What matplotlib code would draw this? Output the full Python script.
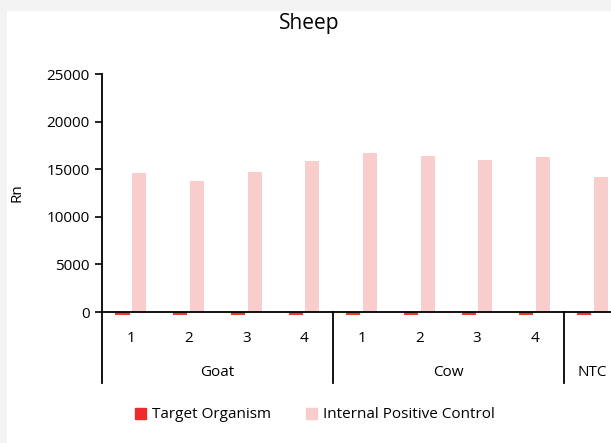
import numpy as np
import matplotlib.pyplot as plt
from matplotlib.patches import Rectangle
from matplotlib.lines import Line2D

plt.rcParams['font.family'] = ['Open Sans', 'DejaVu Sans']

# data
samples = ["1", "2", "3", "4", "1", "2", "3", "4", ""]
groups = ["Goat", "Cow", "NTC"]
group_sizes = [4, 4, 1]
target = [-300, -300, -300, -300, -300, -300, -300, -300, -300]
ipc = [14600, 13790, 14740, 15860, 16730, 16390, 15970, 16250, 14150]

W, H = 611, 443
fig = plt.figure(figsize=(W / 100, H / 100), dpi=100, facecolor="#f3f3f3")
# white chart area inside the grey screenshot border
fig.patches.append(Rectangle((7 / W, 0), 1, 1 - 11 / H, transform=fig.transFigure,
                             facecolor="white", edgecolor="none", zorder=-5))


def fx(px):
    return px / W


def fy(py):
    return 1 - py / H


step = 57.7
left, right = 102, 102 + 9 * step
ax = fig.add_axes([fx(left), fy(312), fx(right - left), fy(74) - fy(312)])
ax.set_facecolor("none")

x = np.arange(len(ipc))
bw = 0.245
ax.bar(x - 0.145, target, bw, color="#ee3b2b", clip_on=False, zorder=2)
ax.bar(x + 0.145, ipc, bw, color="#f9cdcb", zorder=2)

ax.set_xlim(-0.5, len(ipc) - 0.5)
ax.set_ylim(0, 25000)
ax.set_yticks(range(0, 25001, 5000))
ax.tick_params(axis="y", direction="out", length=5, width=1.2, labelsize=11, pad=4)
ax.set_xticks([])
for s in ["top", "right", "left"]:
    ax.spines[s].set_visible(False)
ax.spines["bottom"].set_linewidth(1.3)
ax.spines["bottom"].set_zorder(3)

# y axis line extended down through the category area
fig.add_artist(Line2D([fx(left), fx(left)], [fy(74), fy(383)], color="black", lw=1.3))

# category labels
for i, s in enumerate(samples):
    fig.text(fx(left + (i + 0.5) * step), fy(338), s, ha="center", va="center", fontsize=11)

# group labels and separators
start = 0
for g, n in zip(groups, group_sizes):
    c = start + n / 2
    fig.text(fx(left + c * step), fy(372), g, ha="center", va="center", fontsize=11)
    start += n
    if start < len(ipc):
        xpix = left + start * step
        fig.add_artist(Line2D([fx(xpix), fx(xpix)], [fy(312), fy(383)],
                              color="black", lw=1.3))

fig.text(fx(17), fy(193), "Rn", rotation=90, ha="center", va="center", fontsize=11)
fig.text(fx(309), fy(23), "Sheep", ha="center", va="center", fontsize=15)

handles = [Rectangle((0, 0), 1, 1, color="#ee2b2b"), Rectangle((0, 0), 1, 1, color="#f9cdcb")]
fig.legend(handles, ["Target Organism", "Internal Positive Control"], loc="center",
           bbox_to_anchor=(fx(315), fy(415)), ncol=2, frameon=False, fontsize=11,
           handlelength=0.7, handleheight=0.7, handletextpad=0.4, columnspacing=2.3)

fig.savefig("out.png", dpi=100, facecolor=fig.get_facecolor())
